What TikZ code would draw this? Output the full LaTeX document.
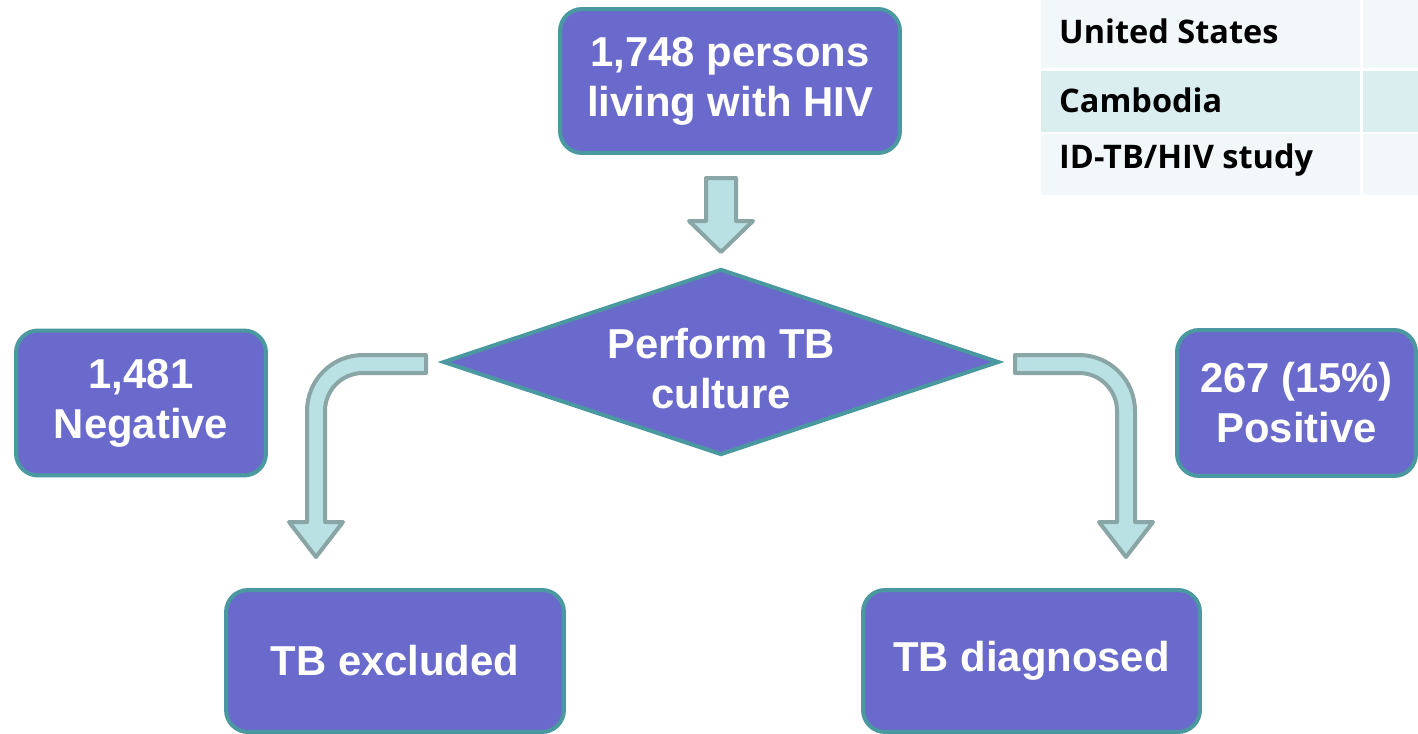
\documentclass[tikz,border=0pt]{standalone}
\usepackage{fontspec}
\setmainfont{Liberation Sans}
\newfontfamily\tablefont{Open Sans}
\usetikzlibrary{shapes.geometric}

\definecolor{boxfill}{RGB}{106,106,204}
\definecolor{boxline}{RGB}{74,152,160}
\definecolor{arrowfill}{RGB}{185,224,227}
\definecolor{arrowline}{RGB}{138,165,166}
\definecolor{rowlight}{RGB}{242,248,250}
\definecolor{rowdark}{RGB}{218,237,239}

\begin{document}
\begin{tikzpicture}[x=0.02cm, y=-0.02cm,
    box/.style={draw=boxline, line width=0.08cm, fill=boxfill, rounded corners=0.44cm,
      text=white, font=\bfseries\fontsize{23.8}{28.5}\selectfont, align=center, inner sep=0pt},
    decision/.style={box, diamond, sharp corners, aspect=3},
    bigarrow/.style={draw=arrowline, line width=0.08cm, fill=arrowfill, line join=round},
    rowtext/.style={anchor=base west, font=\tablefont\bfseries\fontsize{18.5}{22}\selectfont}]
    \useasboundingbox (0,0) rectangle (1418,734);

    % Draw table rows
    \fill [rowlight] (1041,0) rectangle (1360,68);
    \fill [rowdark] (1041,71) rectangle (1360,132);
    \fill [rowlight] (1041,134) rectangle (1360,195);
    \fill [rowlight] (1363,0) rectangle (1418,68);
    \fill [rowdark] (1363,71) rectangle (1418,132);
    \fill [rowlight] (1363,134) rectangle (1418,195);
    \node [rowtext] (us) at (1053,43) {United States};
    \node [rowtext] (cambodia) at (1053,112) {Cambodia};
    \node [rowtext] (study) at (1053,168) {ID-TB/HIV study};

    % Draw flow chart boxes
    \node [box, minimum width=6.8cm, minimum height=2.88cm] (hiv) at (730,81)
      {1,748 persons\\living with HIV};
    \node [decision, minimum width=11.12cm, minimum height=3.72cm] (culture) at (721,362)
      {\rule{0pt}{25pt}Perform TB\\culture};
    \node [box, minimum width=5cm, minimum height=2.9cm] (neg) at (141,403)
      {1,481\\Negative};
    \node [box, minimum width=4.78cm, minimum height=2.92cm] (pos) at (1296.5,403)
      {267 (15\%)\\Positive};
    \node [box, minimum width=6.76cm, minimum height=2.84cm] (excl) at (395,661)
      {TB excluded};
    \node [box, minimum width=6.74cm, minimum height=2.84cm] (diag) at (1031.5,661)
      {TB diagnosed};

    % Draw block arrows
    \draw [bigarrow] (706,178) -- (736,178) -- (736,221) -- (753,221)
      -- (721,252) -- (689,221) -- (706,221) -- cycle;
    \draw [bigarrow] (426,355) -- (363,355) arc [start angle=270, end angle=180, radius=56]
      -- (307,522) -- (289,522) -- (316,557) -- (343,522) -- (325,522)
      -- (325,411) arc [start angle=180, end angle=270, radius=38] -- (426,373) -- cycle;
    \draw [bigarrow] (1015,355) -- (1079,355) arc [start angle=270, end angle=360, radius=56]
      -- (1135,522) -- (1153,522) -- (1126,557) -- (1099,522) -- (1117,522)
      -- (1117,411) arc [start angle=0, end angle=-90, radius=38] -- (1015,373) -- cycle;
  \end{tikzpicture}
\end{document}
